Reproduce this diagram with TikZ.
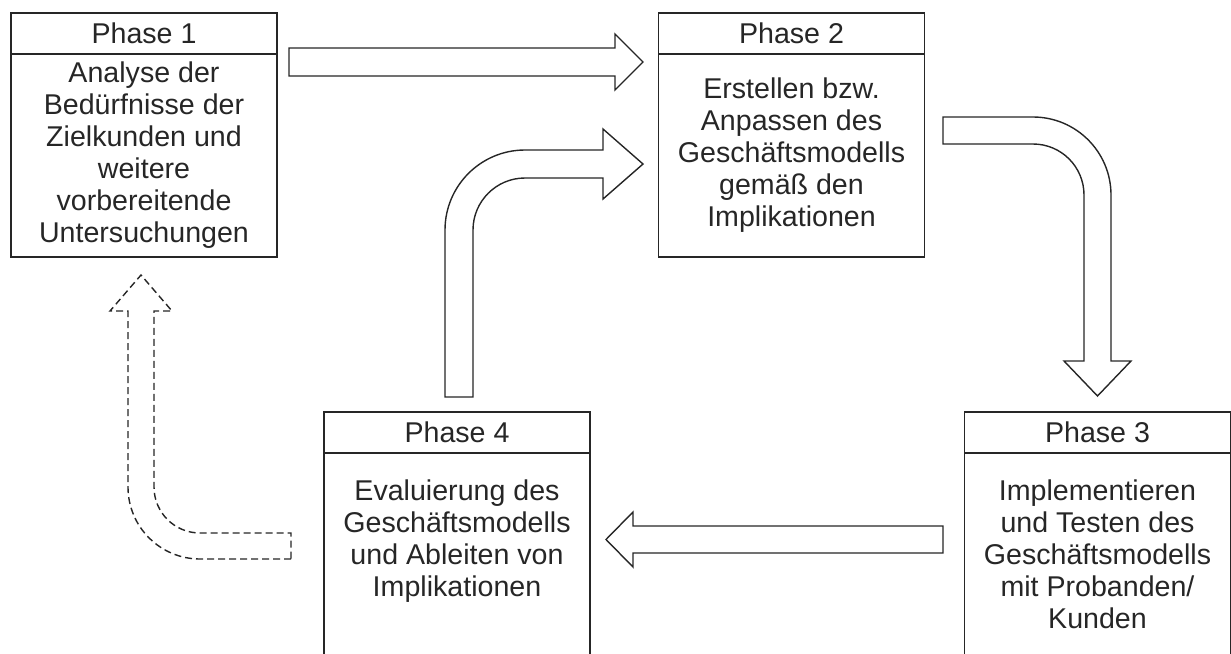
\documentclass[tikz,border=0pt]{standalone}
\usepackage{fontspec}
\setmainfont{Liberation Sans}
\usetikzlibrary{positioning}
\tikzset{
  phasehead/.style={draw=black!85, line width=0.7pt, minimum width=133pt,
    minimum height=20.5pt, inner sep=0pt, outer sep=0pt,
    font=\fontsize{14.3}{16}\selectfont, text=black!85},
  phasebody/.style={draw=black!85, line width=0.7pt, minimum width=133pt,
    minimum height=101.5pt, inner sep=0pt, outer sep=0pt, align=center,
    font=\fontsize{14.3}{16}\selectfont, text=black!85},
  blockarrow/.style={draw=black!85, fill=white, line width=0.7pt, line join=miter},
  loosearrow/.style={blockarrow, dash pattern=on 3.5pt off 2pt}
}

\begin{document}
\begin{tikzpicture}[x=0.5pt,y=-0.5pt]
  \useasboundingbox (0,0) rectangle (1231,653);

  % phase boxes: title row and body
  \node[phasehead] (p1head) at (144,33.5) {Phase 1};
  \node[phasebody, below=0pt of p1head] (p1body) {Analyse der\\Bedürfnisse der\\Zielkunden und\\weitere\\vorbereitende\\Untersuchungen};

  \node[phasehead] (p2head) at (791.5,33.5) {Phase 2};
  \node[phasebody, below=0pt of p2head] (p2body) {Erstellen bzw.\\Anpassen des\\Geschäftsmodells\\gemäß den\\Implikationen};

  \node[phasehead] (p3head) at (1097.5,432.5) {Phase 3};
  \node[phasebody, below=0pt of p3head] (p3body) {Implementieren\\und Testen des\\Geschäftsmodells\\mit Probanden/\\Kunden};

  \node[phasehead] (p4head) at (457,432.5) {Phase 4};
  \node[phasebody, below=0pt of p4head] (p4body) {Evaluierung des\\Geschäftsmodells\\und Ableiten von\\Implikationen\\~};

  % tails of the block arrows
  \coordinate (a12) at (289,48);
  \coordinate (a42) at (445,397);
  \coordinate (a23) at (943,117);
  \coordinate (a34) at (943,526);
  \coordinate (a41) at (291,559);

  % phase 1 -> phase 2
  \draw[blockarrow] (a12) -- ++(326,0) -- ++(0,-14) -- ++(28,28) -- ++(-28,28)
    -- ++(0,-14) -- ++(-326,0) -- cycle;

  % phase 4 -> phase 2
  \draw[blockarrow] (a42) -- ++(0,-167) arc[start angle=180, end angle=270, radius=80]
    -- ++(78,0) -- ++(0,-21) -- ++(40,35) -- ++(-40,35) -- ++(0,-21) -- ++(-78,0)
    arc[start angle=270, end angle=180, radius=52] -- ++(0,167) -- cycle;

  % phase 2 -> phase 3
  \draw[blockarrow] (a23) -- ++(90,0) arc[start angle=270, end angle=360, radius=78]
    -- ++(0,166) -- ++(20,0) -- ++(-33.5,35) -- ++(-33.5,-35) -- ++(20,0)
    -- ++(0,-166) arc[start angle=0, end angle=-90, radius=51] -- ++(-90,0) -- cycle;

  % phase 3 -> phase 4
  \draw[blockarrow] (a34) -- ++(-310,0) -- ++(0,-14) -- ++(-27,27.5) -- ++(27,27.5)
    -- ++(0,-14) -- ++(310,0) -- cycle;

  % phase 4 -> phase 1 (optional loop)
  \draw[loosearrow] (a41) -- ++(-91,0) arc[start angle=90, end angle=180, radius=72]
    -- ++(0,-176) -- ++(-18,0) -- ++(31,-36) -- ++(31,36) -- ++(-18,0)
    -- ++(0,176) arc[start angle=180, end angle=90, radius=46] -- ++(91,0) -- cycle;
\end{tikzpicture}
\end{document}
